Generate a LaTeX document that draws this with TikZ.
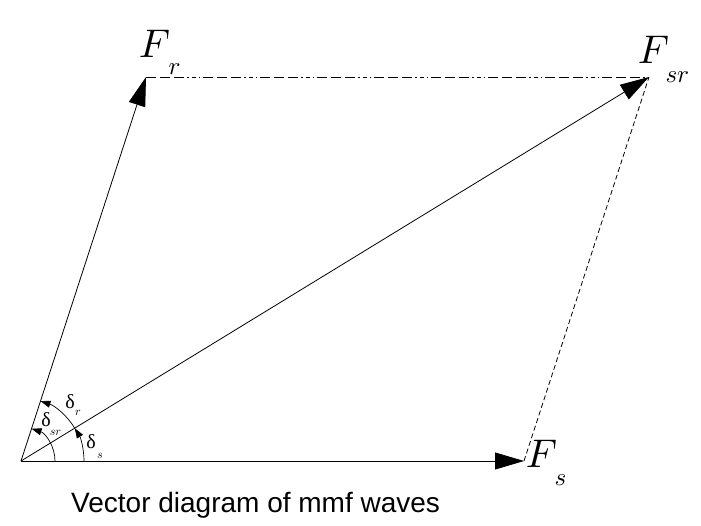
\documentclass[tikz,border=0pt]{standalone}
\usepackage{fontspec}
\newfontfamily\capfont{Liberation Sans}
\newfontfamily\grkfont{Liberation Serif}
\usetikzlibrary{arrows.meta,calc}
\begin{document}
\begin{tikzpicture}[x=1pt,y=1pt,
  vec/.style={line width=0.8pt,-{Triangle[length=29pt,width=17pt]}},
  arcarrow/.style={line width=0.7pt,-{Triangle[length=10pt,width=7pt]}},
  dashdotline/.style={line width=0.8pt,dash pattern=on 10pt off 4pt on 10pt off 4pt on 10pt off 3pt on 1.5pt off 3pt on 4pt off 3pt on 1.5pt off 3pt},
  dashline/.style={line width=0.8pt,dash pattern=on 5pt off 3pt},
  bigF/.style={inner sep=0pt,anchor=base west,font=\fontsize{10}{10}\selectfont,scale=4},
  bigsub/.style={inner sep=0pt,anchor=base west,font=\fontsize{10}{10}\selectfont,scale=2.5},
  dlab/.style={inner sep=0pt,font=\grkfont\fontsize{20}{20}\selectfont},
  dsub/.style={inner sep=0pt,font=\fontsize{10}{10}\selectfont,scale=1.2},
  caption/.style={inner sep=0pt,anchor=base west,font=\capfont\fontsize{28}{28}\selectfont}]
\useasboundingbox (0,0) rectangle (701,525);
\coordinate (O) at (21,64);
\coordinate (Fs) at (524,64);
\coordinate (Fr) at (146,448);
\coordinate (Fsr) at (649,448);
% dashed construction lines
\draw[dashdotline] (Fr) -- (Fsr);
\draw[dashline] (Fs) -- (Fsr);
% vectors
\draw[vec] (O) -- (Fs);
\draw[vec] (O) -- (Fr);
\draw[vec] (O) -- (Fsr);
% angle arcs
\draw[arcarrow] ($(O)+(34pt,0)$) arc[start angle=0,end angle=71.97,radius=34pt];
\draw[arcarrow] ($(O)+(63pt,0)$) arc[start angle=0,end angle=31.45,radius=63pt];
\draw[arcarrow] ($(O)+(31.45:63pt)$) arc[start angle=31.45,end angle=71.97,radius=63pt];
% labels
\node[bigF] (lFr) at (138,467) {$F$};
\node[bigsub] (lFrs) at (168,450) {$r$};
\node[bigF] (lFsr) at (637,461) {$F$};
\node[bigsub] (lFsrs) at (665,442) {$sr$};
\node[bigF] (lFs) at (525,58) {$F$};
\node[bigsub] (lFss) at (554,40) {$s$};
\node[dlab] (dsr) at (46,105) {δ};
\node[dsub] (dsrs) at (55.5,92) {$sr$};
\node[dlab] (dr) at (70,123) {δ};
\node[dsub] (drs) at (78,112) {$r$};
\node[dlab] (ds) at (91,83) {δ};
\node[dsub] (dss) at (100,69) {$s$};
\node[caption] (cap) at (71,13) {Vector diagram of mmf waves};
\end{tikzpicture}
\end{document}
